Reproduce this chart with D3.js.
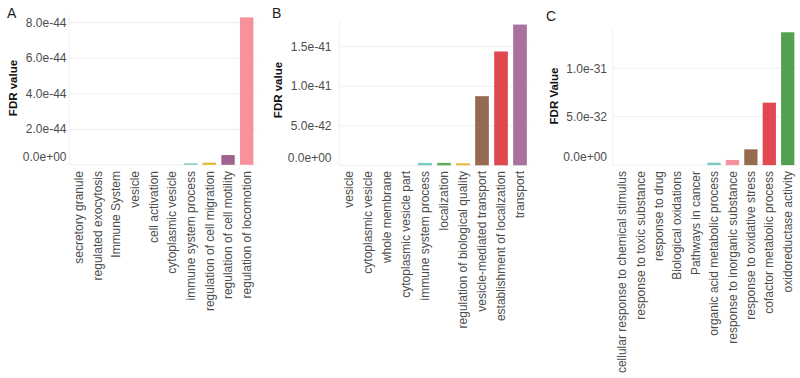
<!DOCTYPE html>
<html>
<head>
<meta charset="utf-8">
<script src="https://cdn.jsdelivr.net/npm/d3@7"></script>
<style>
  body { margin: 0; background: #fff; }
  svg { font-family: "Liberation Sans", Arial, sans-serif; }
</style>
</head>
<body>
<div id="chart"></div>
<script>
// Panel A
const catsA = ["secretory granule", "regulated exocytosis", "Immune System", "vesicle", "cell activation",
  "cytoplasmic vesicle", "immune system process", "regulation of cell migration", "regulation of cell motility",
  "regulation of locomotion"];
const valsA = [0, 0, 0, 0, 0, 0, 0.08e-44, 0.12e-44, 0.55e-44, 8.3e-44];
const colorsA = ["#6BC4C1", "#5BAF55", "#E8B731", "#956A50", "#E04850", "#A86F9F", "#7CC8C2", "#E8B731", "#A0628F", "#F7929C"];
const ticksA = [0, 2e-44, 4e-44, 6e-44, 8e-44];
const tickLabelsA = ["0.0e+00", "2.0e-44", "4.0e-44", "6.0e-44", "8.0e-44"];

// Panel B
const catsB = ["vesicle", "cytoplasmic vesicle", "whole membrane", "cytoplasmic vesicle part", "immune system process",
  "localization", "regulation of biological quality", "vesicle-mediated transport", "establishment of localization",
  "transport"];
const valsB = [0, 0, 0, 0, 0.03e-41, 0.03e-41, 0.025e-41, 0.874e-41, 1.44e-41, 1.78e-41];
const colorsB = ["#F7929C", "#A0628F", "#E8B731", "#5BAF55", "#7CC8C2", "#5BAF55", "#E8B731", "#956A50", "#E04850", "#A8719E"];
const ticksB = [0, 5e-42, 1e-41, 1.5e-41];
const tickLabelsB = ["0.0e+00", "5.0e-42", "1.0e-41", "1.5e-41"];

// Panel C
const catsC = ["cellular response to chemical stimulus", "response to toxic substance", "response to drug",
  "Biological oxidations", "Pathways in cancer", "organic acid metabolic process", "response to inorganic substance",
  "response to oxidative stress", "cofactor metabolic process", "oxidoreductase activity"];
const valsC = [0, 0, 0, 0, 0, 0.025e-31, 0.053e-31, 0.163e-31, 0.645e-31, 1.372e-31];
const colorsC = ["#A0628F", "#E8B731", "#5BAF55", "#6BC4C1", "#E04850", "#7CC8C2", "#F7929C", "#956A50", "#E04850", "#52A050"];
const ticksC = [0, 5e-32, 1e-31];
const tickLabelsC = ["0.0e+00", "5.0e-32", "1.0e-31"];

const width = 800, height = 378;
const svg = d3.select("#chart").append("svg")
  .attr("width", width)
  .attr("height", height);

// layout for each panel (pixels), kept apart from the data
const panels = [
  { letter: "A", title: "FDR value", cats: catsA, vals: valsA, colors: colorsA, ticks: ticksA, tickLabels: tickLabelsA,
    xRange: [69.2, 256.2], refVal: 8e-44, refY: 22.7, zeroY: 164.8, top: 14,
    labelX: 66.5, titleX: 12.5, titleY: 88, letterX: 7, letterY: 18 },
  { letter: "B", title: "FDR value", cats: catsB, vals: valsB, colors: colorsB, ticks: ticksB, tickLabels: tickLabelsB,
    xRange: [339.3, 529.7], refVal: 1.5e-41, refY: 46.7, zeroY: 165.3, top: 20,
    labelX: 331.5, titleX: 277.5, titleY: 90, letterX: 272, letterY: 18 },
  { letter: "C", title: "FDR Value", cats: catsC, vals: valsC, colors: colorsC, ticks: ticksC, tickLabels: tickLabelsC,
    xRange: [612.6, 797.1], refVal: 1e-31, refY: 68.3, zeroY: 165.1, top: 28,
    labelX: 607, titleX: 554, titleY: 96, letterX: 546, letterY: 21 }
];

panels.forEach(p => {
  const g = svg.append("g");

  const x = d3.scaleBand()
    .domain(p.cats)
    .range(p.xRange)
    .paddingInner(0.28)
    .paddingOuter(0.15);

  const y = d3.scaleLinear()
    .domain([0, p.refVal])
    .range([p.zeroY, p.refY]);

  // faint grid
  g.selectAll(".grid")
    .data(p.ticks)
    .join("line")
    .attr("x1", p.xRange[0])
    .attr("x2", p.xRange[1])
    .attr("y1", d => y(d))
    .attr("y2", d => y(d))
    .attr("stroke", "#EFEFEF")
    .attr("stroke-width", 1);

  g.append("line")
    .attr("x1", p.xRange[0]).attr("x2", p.xRange[0])
    .attr("y1", p.top).attr("y2", p.zeroY)
    .attr("stroke", "#F2F2F2");

  // bars
  g.selectAll(".bar")
    .data(p.vals)
    .join("rect")
    .attr("x", (d, i) => x(p.cats[i]))
    .attr("width", x.bandwidth())
    .attr("y", d => y(d))
    .attr("height", d => p.zeroY - y(d))
    .attr("fill", (d, i) => p.colors[i]);

  // y tick labels (the zero label sits a bit higher in the original)
  g.selectAll(".ytick")
    .data(p.ticks)
    .join("text")
    .attr("x", p.labelX)
    .attr("y", (d, i) => y(d) - (d === 0 ? 8 : 0))
    .attr("dy", "0.35em")
    .attr("text-anchor", "end")
    .attr("font-size", 12)
    .attr("fill", "#4D4D4D")
    .text((d, i) => p.tickLabels[i]);

  // x labels, rotated
  g.selectAll(".xlab")
    .data(p.cats)
    .join("text")
    .attr("transform", d => `translate(${x(d) + x.bandwidth() / 2},171) rotate(-90)`)
    .attr("dy", "0.35em")
    .attr("text-anchor", "end")
    .attr("font-size", 12)
    .attr("fill", "#4D4D4D")
    .text(d => d);

  // y title
  g.append("text")
    .attr("transform", `translate(${p.titleX},${p.titleY}) rotate(-90)`)
    .attr("dy", "0.35em")
    .attr("text-anchor", "middle")
    .attr("font-size", 11.5)
    .attr("font-weight", "bold")
    .attr("fill", "#111")
    .text(p.title);

  // panel letter
  g.append("text")
    .attr("x", p.letterX)
    .attr("y", p.letterY)
    .attr("font-size", 14)
    .attr("fill", "#222")
    .text(p.letter);
});
</script>
</body>
</html>
